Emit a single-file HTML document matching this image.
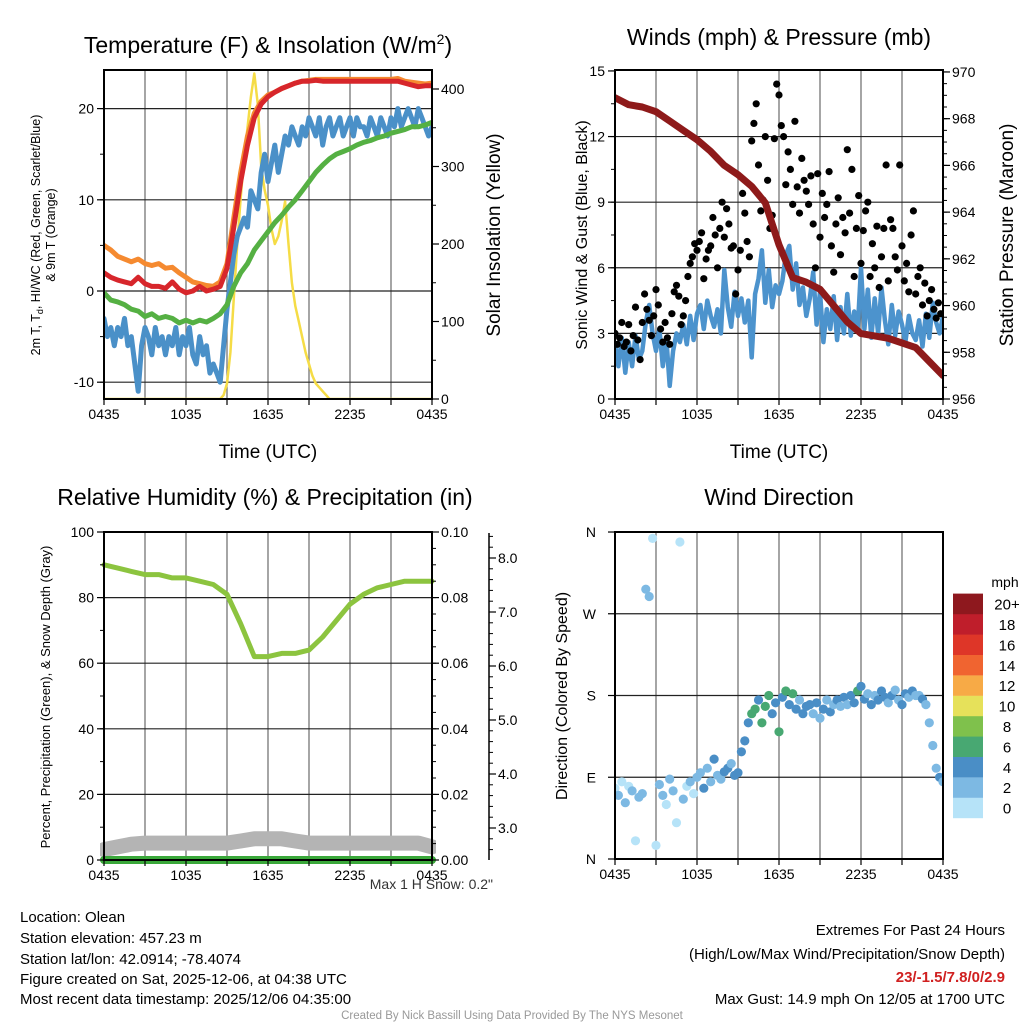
<!DOCTYPE html>
<html><head><meta charset="utf-8"><style>
body{margin:0;background:#fff;}
svg{display:block;font-family:"Liberation Sans",Arial,sans-serif;}
</style></head><body>
<svg id="chart" width="1024" height="1024" viewBox="0 0 1024 1024">
<rect width="1024" height="1024" fill="#fff"/>
<defs>
<clipPath id="c1"><rect x="104" y="70" width="328" height="330"/></clipPath>
<clipPath id="c2"><rect x="615" y="70" width="328" height="330"/></clipPath>
<clipPath id="c3"><rect x="100" y="532" width="336" height="336"/></clipPath>
<clipPath id="c4"><rect x="615" y="532" width="328" height="328"/></clipPath>
</defs>
<g id="grids"></g>
<g id="series"></g>
<g id="axes"></g>
<text x="268" y="53" font-size="23" text-anchor="middle">Temperature (F) &amp; Insolation (W/m<tspan font-size="14" dy="-9">2</tspan><tspan dy="9">)</tspan></text>
<text x="779" y="45" font-size="23" text-anchor="middle">Winds (mph) &amp; Pressure (mb)</text>
<text x="265" y="505" font-size="23" text-anchor="middle">Relative Humidity (%) &amp; Precipitation (in)</text>
<text x="779" y="505" font-size="23" text-anchor="middle">Wind Direction</text>
<text x="268" y="458" font-size="19" text-anchor="middle">Time (UTC)</text>
<text x="779" y="458" font-size="19" text-anchor="middle">Time (UTC)</text>
<g transform="translate(40,235) rotate(-90)" font-size="12.5" text-anchor="middle">
<text x="0" y="0">2m T, T<tspan font-size="9" dy="3">d</tspan><tspan dy="-3">, HI/WC (Red, Green, Scarlet/Blue)</tspan></text>
<text x="0" y="15">&amp; 9m T (Orange)</text></g>
<text transform="translate(500,235) rotate(-90)" font-size="19" text-anchor="middle">Solar Insolation (Yellow)</text>
<text transform="translate(587,235) rotate(-90)" font-size="16" text-anchor="middle">Sonic Wind &amp; Gust (Blue, Black)</text>
<text transform="translate(1013,235) rotate(-90)" font-size="19" text-anchor="middle">Station Pressure (Maroon)</text>
<text transform="translate(50,697) rotate(-90)" font-size="13" text-anchor="middle">Percent, Precipitation (Green), &amp; Snow Depth (Gray)</text>
<text transform="translate(567,696) rotate(-90)" font-size="16" text-anchor="middle">Direction (Colored By Speed)</text>
<text x="1005" y="587" font-size="14" text-anchor="middle">mph</text>
<g id="colorbar"></g>
<text x="493" y="889" font-size="14" text-anchor="end" fill="#333">Max 1 H Snow: 0.2"</text>
<g font-size="15">
<text x="20" y="922">Location: Olean</text>
<text x="20" y="943">Station elevation: 457.23 m</text>
<text x="20" y="964">Station lat/lon: 42.0914; -78.4074</text>
<text x="20" y="984">Figure created on Sat, 2025-12-06, at 04:38 UTC</text>
<text x="20" y="1004">Most recent data timestamp: 2025/12/06 04:35:00</text>
</g>
<g font-size="15" text-anchor="end">
<text x="1005" y="935">Extremes For Past 24 Hours</text>
<text x="1005" y="959">(High/Low/Max Wind/Precipitation/Snow Depth)</text>
<text x="1005" y="982" fill="#d02020" font-weight="bold">23/-1.5/7.8/0/2.9</text>
<text x="1005" y="1004">Max Gust: 14.9 mph On 12/05 at 1700 UTC</text>
</g>
<text x="512" y="1019" font-size="11.5" text-anchor="middle" fill="#999">Created By Nick Bassill Using Data Provided By The NYS Mesonet</text>
</svg>
<script>
// ---------- data ----------
const timeLabels = ["0435","1035","1635","2235","0435"];
const tempTicks = [-10,0,10,20];
const solarTicks = [0,100,200,300,400];
const windTicks = [0,3,6,9,12,15];
const presTicks = [956,958,960,962,964,966,968,970];
const rhTicks = [0,20,40,60,80,100];
const precipTicks = ["0.00","0.02","0.04","0.06","0.08","0.10"];
const snowTicks = ["3.0","4.0","5.0","6.0","7.0","8.0"];
const dirLabels = ["N","E","S","W","N"];
const speedBins = ["0","2","4","6","8","10","12","14","16","18","20+"];
const speedColors = ["#b6e3f8","#7db9e3","#4a8ec6","#48a872","#7fc14c","#e6e15a","#f7aa46","#f06430","#de3628","#bf1e2b","#8e181e"];
const temp2m = [2.0,1.5,1.2,1.0,0.8,1.5,0.8,0.5,0.5, 0.3,1.0,0.2,-0.2,0.0,0.5,0.0,0.2, 0.5,2.5,7,12,16,19,20.5,21.3, 21.8,22.2,22.5,22.8,23,23,23.1,23, 23,23,23,23,23,23,23,23, 23,23,23,22.8,22.6,22.4,22.5,22.5];
const temp9m = [5,4.5,3.8,3.5,3.2,3.5,3,2.8,3, 2.5,2.6,2,1.5,1,0.8,0.6,0.5, 1.0,3,8,13,17,19.5,20.8,21.5, 21.8,22.2,22.5,22.8,23,23.1,23.2,23.2, 23.2,23.2,23.2,23.2,23.2,23.2,23.2,23.2, 23.2,23.2,23.3,23.0,22.9,22.8,22.7,22.8];
const dewpt = [-0.2,-1,-1.2,-1.5,-2,-2.2,-2.8,-2.5,-3, -2.8,-3,-3.5,-3.2,-3.5,-3.2,-3.4,-3.0, -2.5,-1.5,0.5,2,3,4.5,5.5,6.5, 7.5,8.3,9.2,10,11,12,13,13.8, 14.5,15,15.3,15.6,16,16.3,16.5,16.8, 17,17.3,17.5,17.7,18,18,18.2,18.5];
const windChill = [-3,-5,-4,-6,-4,-5,-3,-6,-5, -8,-11,-6,-4,-5,-7,-4,-6, -5,-7,-5,-6,-4,-7,-5,-6, -4,-7,-8,-5,-7,-6,-9,-8, -9,-10,-6,-2,1,4,6,7, 8,7,11,10,9,13,15,12, 14,16,13,15,17,16,18,17, 16,18,17,19,18,17,19,16, 18,19,17,18,19,17,18,19, 17,19,18,18,17,19,18,17, 19,18,17,19,18,20,18,19, 20,19,18,20,19,18,17,18];
const solar = [0,0,0,0,0,0,0,0,0,0,0,0,0,0,0,0,0,0,0,0,0,0,0,0,0,0,0,0,0,0,0,0,0,0,0,5, 20,60,130,200,260,310,350,390, 420,380,300,270,250,220,200,210,230,255,200,150,120,100,80,60,45,30,20,15,10,5, 0,0,0,0,0,0,0,0,0,0,0,0,0,0,0,0,0,0,0,0,0,0,0,0,0,0,0,0,0,0,0];
const windSpeed = [2.5,1.5,2.8,1.2,2.6,1.5,2.9,1.8,2.2, 3.5,4.3,3.0,2.2,3.2,1.5,2.8,0.6, 2.2,3.0,2.6,3.4,2.5,3.8,2.7,3.9, 4.3,3.2,4.5,3.8,3.3,4.1,3.0,5.9, 4.2,3.3,4.9,3.8,4.6,3.5,4.5,1.9, 4.8,5.5,6.8,4.4,5.9,4.2,5.2,4.8, 5.4,6.6,7.0,5.0,6.2,4.3,5.1,3.8, 4.6,5.8,3.4,4.9,2.6,4.1,3.2,4.7, 2.7,4.2,3.0,4.8,2.9,4.0,3.1,6.0, 3.2,5.0,2.8,4.6,3.0,5.1,3.6,2.5, 4.3,2.9,4.0,3.4,2.6,3.8,3.0,2.7, 3.6,2.4,3.9,2.8,4.4,3.5,3.0,3.8];
const windGust = [3.0,2.5,2.8,3.5,2.4,2.6,3.4,2.2,2.9,4.2,2.7,1.8, 3.5,4.8,4.1,3.6,2.9,3.8,5.0,4.3,3.2,2.6,3.5,2.8, 2.5,3.9,4.9,5.2,4.7,3.4,3.8,4.5,5.6,6.2,6.5,7.1, 6.8,7.2,7.6,5.5,6.4,6.8,7.0,8.3,7.5,6.0,7.8,9.0, 7.4,8.7,8.0,6.9,7.0,4.8,5.9,6.8,9.4,8.5,7.2,6.5, 11.8,12.6,13.5,10.7,8.6,9.1,12.0,10.0,7.8,8.4,11.9,14.4, 13.9,12.5,12.0,9.8,11.3,10.5,8.9,12.7,9.7,8.5,11.0,10.0, 9.5,8.9,10.2,8.0,6.0,10.3,7.4,9.4,8.3,8.9,10.4,7.0, 5.8,8.0,9.2,6.6,8.3,7.6,11.4,8.5,10.5,5.6,7.8,9.3, 6.2,7.7,8.6,9.0,5.6,7.1,6.0,7.9,5.1,6.5,7.8,10.7, 5.4,8.2,7.8,6.5,5.9,10.7,7.0,5.4,6.2,4.9,7.5,8.6, 4.8,5.6,6.0,4.3,5.3,3.8,4.5,5.0,4.1,3.7,4.4,3.9];
const pressure = [968.9,968.6,968.5,968.3,967.9,967.5,967.1,966.6,966.0,965.6,965.1,964.4,962.6,961.2,961.0,960.7,960.0,959.3,958.8,958.7,958.6,958.4,958.2,957.6,957.0];
const relHum = [90,89,88,87,87,86,86,85,84,81,72,62,62,63,63,64,68,73,78,81,83,84,85,85,85];
const precip = [0,0,0,0,0,0,0,0,0,0,0,0,0,0,0,0,0,0,0,0,0,0,0,0,0];
const snowDepth = [2.6,2.65,2.7,2.72,2.72,2.72,2.72,2.72,2.72,2.72,2.76,2.8,2.8,2.8,2.76,2.72,2.72,2.72,2.72,2.72,2.72,2.72,2.72,2.72,2.65];
const windDir = [78,70,85,62,80,75,20,68,72, 297,289,353,15,82,70,60,88, 75,40,349,66,80,85,72,90, 95,78,100,85,110,92,88,96, 100,105,92,95,118,130,150,160, 165,175,150,168,180,160,172,140, 178,185,170,182,165,175,160,168, 170,160,172,155,165,175,162,170, 175,168,178,170,180,172,185,190, 176,182,170,180,175,185,178,172, 180,186,175,170,182,178,185,180, 180,176,170,150,125,100,90,85];
const dirSpeed = [1.5,2,1,2.5,1.5,2,0.5,3,2, 2,2,0.5,1,2,3.5,1.5,2.5, 3,0.5,1,2,1.5,2,0.5,2.5, 3.5,4,2,3.5,4,3,2.5,4.5, 4,3.5,5,4,4.5,4,5.5,6.5, 6,4.5,7.5,6,6.5,4,4.5,6, 5,6.5,4,6,4.5,3.5,4,5, 4,3,4.5,2.5,4,3.5,4.5,3, 4,3.5,4.5,3,4,5.5,6.5,4, 4.5,3.5,4,2.5,4,5,4.5,3.5, 4,3,2.5,4,4.5,3.5,4,3, 3.5,4,2.5,3,2,3,4,3.5];

// ---------- helpers ----------
const NS = "http://www.w3.org/2000/svg";
function mk(tag, parent){ const e=document.createElementNS(NS,tag); parent.appendChild(e); return e; }
function set(e, k, v){ e.setAttribute(k, v); }
const G = document.getElementById('grids'), S = document.getElementById('series'), A = document.getElementById('axes');
function xs(x0,x1){ return h => x0 + h/24*(x1-x0); }
const x1s = xs(104,432), x2s = xs(615,943);
const yT = v => 291 - v*9.12, yS = v => 399 - v*0.775;
const yW = v => 399 - v*21.87, yP = v => 399 - (v-956)*23.36;
const yRH = v => 860 - v*3.28, yPr = v => 860 - v*3280, ySn = v => 828 - (v-3)*54;
const yD = d => 859 - d*0.9083;

function line(p, x1,y1,x2,y2, stroke, w){ const l=mk('line',p); set(l,'x1',x1);set(l,'y1',y1);set(l,'x2',x2);set(l,'y2',y2);set(l,'stroke',stroke);set(l,'stroke-width',w); return l; }
function txt(p, x,y,s,anchor,size){ const t=mk('text',p); set(t,'x',x);set(t,'y',y);set(t,'text-anchor',anchor);set(t,'font-size',size); t.textContent=s; return t; }

function frame(x0,x1,y0,y1,hTicks,yf,name){
  for(let h=3;h<24;h+=3){ const xx=x0+h/24*(x1-x0); const l=line(G,xx,y0,xx,y1,'#6a6a6a',1.2);
    
     }
  hTicks.forEach(v=>{ const yy=yf(v); if(yy>y0+1 && yy<y1-1){ const l=line(G,x0,yy,x1,yy,'#222',1.2);
    
     }});
  const r=mk('rect',A); set(r,'x',x0);set(r,'y',y0);set(r,'width',x1-x0);set(r,'height',y1-y0);set(r,'fill','none');set(r,'stroke','#000');set(r,'stroke-width',2);
  
  
  for(let h=0;h<=24;h+=3){ const xx=x0+h/24*(x1-x0); line(A,xx,y1,xx,y1+6,'#000',1.2); }
  timeLabels.forEach((s,i)=>{ const t=txt(A,x0+i*6/24*(x1-x0),y1+20,s,'middle',14);
    
     });
}
function leftTicks(x0,ticks,yf,minorStep,lo,hi,name){
  ticks.forEach(v=>{ const yy=yf(v); line(A,x0-7,yy,x0,yy,'#000',1.2);
    const t=txt(A,x0-10,yy+5,String(v),'end',14);
    
     });
  if(minorStep) for(let v=lo;v<=hi+1e-9;v+=minorStep){ const yy=yf(v); line(A,x0-4,yy,x0,yy,'#000',1); }
}
function rightTicks(x1,ticks,labels,yf,minorStep,lo,hi,name){
  ticks.forEach((v,i)=>{ const yy=yf(v); line(A,x1,yy,x1+7,yy,'#000',1.2);
    const t=txt(A,x1+9,yy+5,labels[i],'start',14);
    
     });
  if(minorStep) for(let v=lo;v<=hi+1e-9;v+=minorStep){ const yy=yf(v); line(A,x1,yy,x1+4,yy,'#000',1); }
}
function path(vals, step, xf, yf, color, w, clip, name){
  const d = vals.map((v,i)=>(i?'L':'M')+xf(i*step).toFixed(1)+','+yf(v).toFixed(1)).join('');
  const p=mk('path',S); set(p,'d',d);set(p,'fill','none');set(p,'stroke',color);set(p,'stroke-width',w);set(p,'stroke-linejoin','round');set(p,'stroke-linecap','round');set(p,'clip-path','url(#'+clip+')');
  
  
  return p;
}

// ---------- panel 1 ----------
frame(104,432,70,399,tempTicks,yT,'temperature');
leftTicks(104,tempTicks,yT,5,-10,20,'temperature-y');
rightTicks(432,solarTicks,solarTicks.map(String),yS,50,0,400,'solar-y');
path(solar,0.25,x1s,yS,'#f5dc46',2.5,'c1','solar-insolation-line');
path(windChill,0.25,x1s,yT,'#4a90c8',5,'c1','wind-chill-line');
path(dewpt,0.5,x1s,yT,'#55b043',5,'c1','dewpoint-line');
path(temp9m,0.5,x1s,yT,'#f58a30',5,'c1','temperature-9m-line');
path(temp2m,0.5,x1s,yT,'#d7262b',5,'c1','temperature-2m-line');

// ---------- panel 2 ----------
frame(615,943,70,399,windTicks,yW,'winds');
leftTicks(615,windTicks,yW,1.5,0,15,'wind-y');
rightTicks(943,presTicks,presTicks.map(String),yP,0.5,956,970,'pressure-y');
path(windSpeed,0.25,x2s,yW,'#4c93cd',4.5,'c2','sonic-wind-line');
windGust.forEach((v,i)=>{ const c=mk('circle',S); set(c,'cx',x2s(i/6).toFixed(1)); set(c,'cy',yW(v).toFixed(1)); set(c,'r',3.6); set(c,'fill','#000'); set(c,'clip-path','url(#c2)');
  
   });
path(pressure,1,x2s,yP,'#8e1a1a',7,'c2','pressure-line');

// ---------- panel 3 ----------
frame(104,432,532,860,rhTicks,yRH,'humidity');
leftTicks(104,rhTicks,yRH,10,0,100,'humidity-y');
rightTicks(432,[0,0.02,0.04,0.06,0.08,0.1],precipTicks,yPr,0.005,0,0.1,'precip-y');
line(A,489,533,489,860,'#000',1.5);
rightTicks(489,[3,4,5,6,7,8],snowTicks,ySn,0.2,2.6,8.4,'snow-y');
path(snowDepth,1,x1s,ySn,'#b4b4b4',15,'c3','snow-depth-line');
path(precip,1,x1s,yPr,'#3aa83a',8,'c3','precipitation-line');
path(relHum,1,x1s,yRH,'#8cc43f',5,'c3','relative-humidity-line');

// ---------- panel 4 ----------
frame(615,943,532,859,[0,90,180,270,360],yD,'direction');
[0,90,180,270,360].forEach((d,i)=>{ const yy=yD(d); line(A,608,yy,615,yy,'#000',1.2);
  const t=txt(A,596,yy+5,dirLabels[i],'end',14);
  
   });
windDir.forEach((d,i)=>{ const bin=Math.min(10,Math.floor(dirSpeed[i]/2)); const c=mk('circle',S);
  set(c,'cx',x2s(i*0.25).toFixed(1)); set(c,'cy',yD(d).toFixed(1)); set(c,'r',4.6); set(c,'fill',speedColors[bin]); set(c,'clip-path','url(#c4)');
  
   });

// colorbar
const CB=document.getElementById('colorbar');
speedBins.forEach((s,i)=>{ const y=818-(i+1)*20.4; const r=mk('rect',CB); set(r,'x',953);set(r,'y',y.toFixed(1));set(r,'width',30);set(r,'height',20.6);set(r,'fill',speedColors[i]);
  
  
  const t=txt(CB,1007,y+16,s,'middle',15);
  
   });
</script>
</body></html>
